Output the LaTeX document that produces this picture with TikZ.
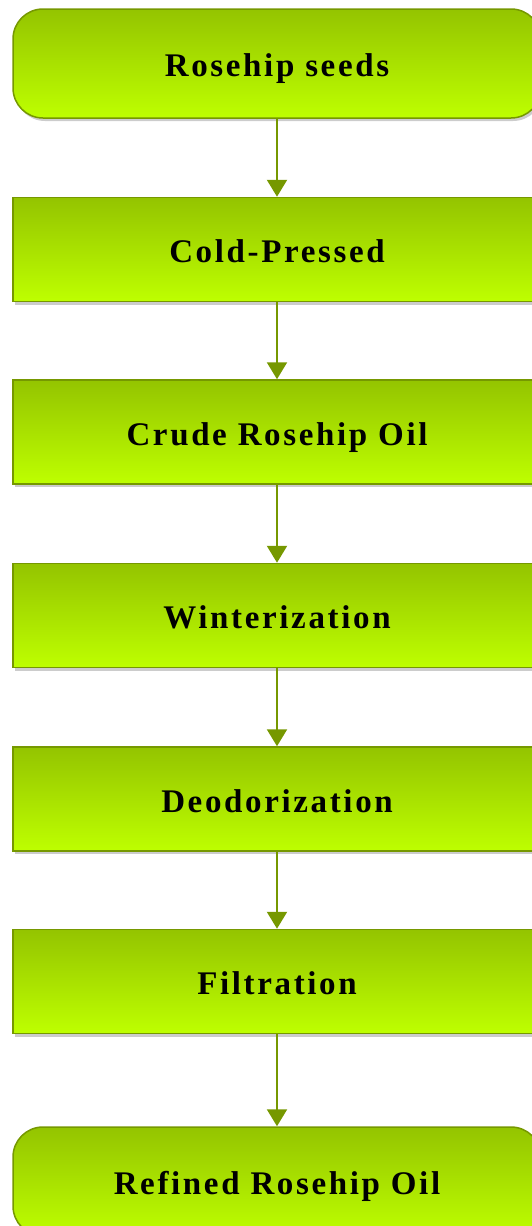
\documentclass[tikz,border=0pt]{standalone}
\usepackage{fontspec}
\setmainfont{Liberation Serif}
\usetikzlibrary{positioning, shadows, arrows.meta}
\definecolor{leaftop}{RGB}{148,196,0}
\definecolor{leafbot}{RGB}{190,255,0}
\definecolor{leafline}{RGB}{118,152,0}

\begin{document}
\begin{tikzpicture}
		[
		font=\fontsize{33}{38}\selectfont\bfseries\addfontfeature{LetterSpace=8},
		block/.style ={rectangle, draw=leafline, line width=1.5pt, top color=leaftop, bottom color=leafbot, minimum width=528pt, minimum height=104pt, text height=26pt, text depth=0pt, drop shadow={shadow xshift=2pt, shadow yshift=-3pt, fill=black, opacity=0.2}},
		term/.style ={block, rounded corners=30pt, minimum height=109pt},
		flow/.style ={-{Triangle[length=17pt, width=20pt]}, draw=leafline, line width=2.2pt}
		]
		\useasboundingbox (0,0) rectangle (532pt,-1226pt);
		\node[term] (seed) at (277pt,-63.5pt) {Rosehip seeds};
		\node[below= 78pt of seed] (cold) [block] {Cold-Pressed};
		\node[below= 77pt of cold] (crude) [block] {Crude Rosehip Oil};
		\node[below= 78pt of crude] (wint) [block] {Winterization};
		\node[below= 78pt of wint] (deo) [block] {Deodorization};
		\node[below= 77pt of deo] (filt) [block] {Filtration};
		\node[below= 92pt of filt] (oil) [term] {Refined Rosehip Oil};
		\draw[flow] (seed.south) -- (cold.north);
		\draw[flow] (cold.south) -- (crude.north);
		\draw[flow] (crude.south) -- (wint.north);
		\draw[flow] (wint.south) -- (deo.north);
		\draw[flow] (deo.south) -- (filt.north);
		\draw[flow] (filt.south) -- (oil.north);
	\end{tikzpicture}
\end{document}
